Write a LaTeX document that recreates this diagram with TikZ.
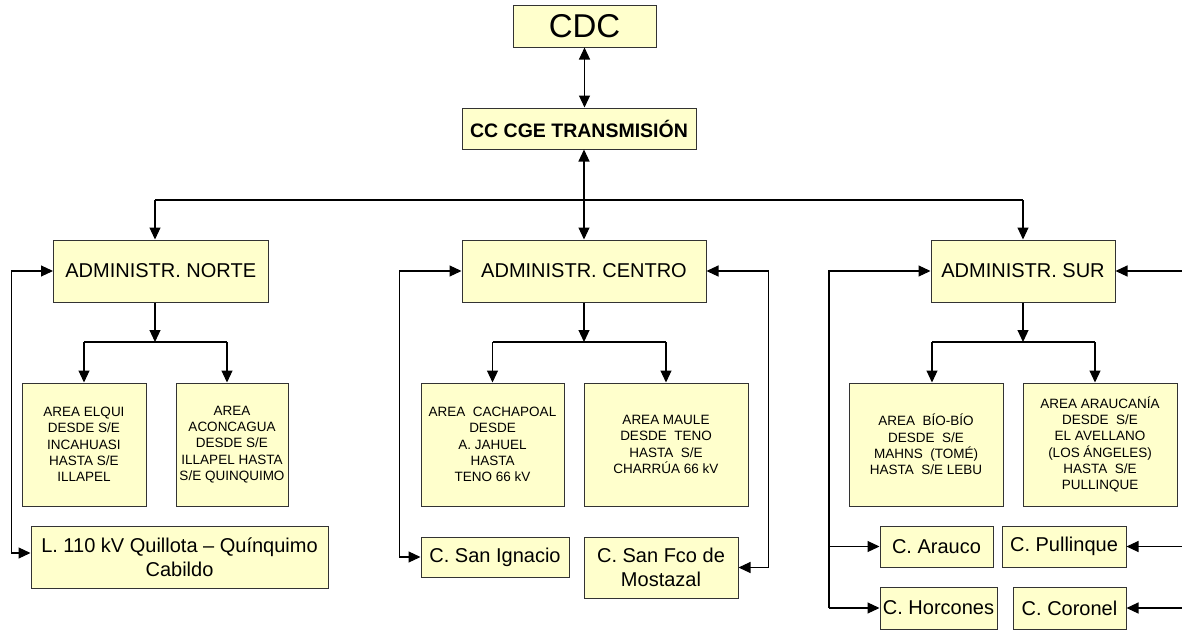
\documentclass[tikz,border=0pt]{standalone}
\usepackage{fontspec}
\setmainfont{Liberation Sans}
\usetikzlibrary{arrows.meta}
\definecolor{boxfill}{HTML}{FFFFCC}
\begin{document}
\begin{tikzpicture}[x=1pt,y=-1pt,
 box/.style={draw=black!80, line width=1pt, fill=boxfill, inner sep=0pt, align=center, font=\fontsize{20}{24.3}\selectfont},
 small/.style={font=\fontsize{13.5}{16.3}\selectfont},
 conn/.style={line width=1.1pt, -{Triangle[length=12pt,width=11pt]}},
 conn2/.style={line width=1.1pt, {Triangle[length=12pt,width=11pt]}-{Triangle[length=12pt,width=11pt]}},
 plain/.style={line width=1.1pt}
]
\useasboundingbox (0,0) rectangle (1182,629);

% top
\node[box, minimum width=143, minimum height=42, font=\fontsize{33}{36}\selectfont] (cdc) at (584.5,26) {CDC};
\node[box, minimum width=234, minimum height=41, font=\bfseries\fontsize{19.5}{22}\selectfont] (cc) at (579,128.5) {CC CGE TRANSMISIÓN};

% administrations
\node[box, minimum width=214.5, minimum height=62] (norte) at (160.75,271) {ADMINISTR. NORTE};
\node[box, minimum width=244, minimum height=62] (centro) at (584,271) {ADMINISTR. CENTRO};
\node[box, minimum width=184, minimum height=62] (sur) at (1023,271) {ADMINISTR. SUR};

% areas
\node[box, small, minimum width=124, minimum height=123] (elqui) at (84,444.5) {AREA ELQUI\\DESDE S/E\\INCAHUASI\\HASTA S/E\\ILLAPEL};
\node[box, small, minimum width=112, minimum height=123] (acon) at (232,444.5) {AREA\\ACONCAGUA\\DESDE S/E\\ILLAPEL HASTA\\S/E QUINQUIMO};
\node[box, small, minimum width=143, minimum height=123] (cacha) at (492.5,444.5) {AREA~ CACHAPOAL\\DESDE\\A. JAHUEL\\HASTA\\TENO 66 kV};
\node[box, small, minimum width=164, minimum height=123] (maule) at (666,444.5) {AREA MAULE\\DESDE~ TENO\\HASTA~ S/E\\CHARRÚA 66 kV};
\node[box, small, minimum width=154, minimum height=123] (bio) at (926,444.5) {AREA~ BÍO-BÍO\\DESDE~ S/E\\MAHNS~ (TOMÉ)\\HASTA~ S/E LEBU};
\node[box, small, minimum width=154, minimum height=123] (arauc) at (1100,444.5) {AREA ARAUCANÍA\\DESDE~ S/E\\EL AVELLANO\\(LOS ÁNGELES)\\HASTA~ S/E\\PULLINQUE};

% centrals / lines
\node[box, minimum width=297, minimum height=62] (l110) at (179.5,557) {L. 110 kV Quillota – Quínquimo\\Cabildo};
\node[box, minimum width=148, minimum height=40] (sanig) at (495,557) {C. San Ignacio};
\node[box, minimum width=154, minimum height=61] (sanfco) at (661,567.5) {C. San Fco de\\Mostazal};
\node[box, minimum width=113, minimum height=41] (arauco) at (936.5,546.5) {C. Arauco};
\node[box, minimum width=124, minimum height=41] (pull) at (1064,546.5) {C. Pullinque};
\node[box, minimum width=117, minimum height=42] (horc) at (938.5,608) {C. Horcones};
\node[box, minimum width=113, minimum height=42] (coro) at (1069.5,608) {C. Coronel};

% top connectors
\draw[conn2] (cdc.south) -- (cdc.south |- cc.north);
\draw[conn2] (centro.north |- cc.south) -- (centro.north);
\coordinate (bus) at (584,200);
\draw[plain] ([xshift=-5.75pt]norte.north |- bus) -- (sur.north |- bus);
\draw[conn] ([xshift=-5.75pt]norte.north |- bus) -- ([xshift=-5.75pt]norte.north);
\draw[conn] (sur.north |- bus) -- (sur.north);

% branches
\coordinate (br) at (0,342);
\draw[conn] ([xshift=-5.75pt]norte.south) -- ([xshift=-5.75pt]norte.south |- br);
\draw[plain] (elqui.north |- br) -- ([xshift=-5pt]acon.north |- br);
\draw[conn] (elqui.north |- br) -- (elqui.north);
\draw[conn] ([xshift=-5pt]acon.north |- br) -- ([xshift=-5pt]acon.north);

\draw[conn] (centro.south) -- (centro.south |- br);
\draw[plain] (cacha.north |- br) -- (maule.north |- br);
\draw[conn] (cacha.north |- br) -- (cacha.north);
\draw[conn] (maule.north |- br) -- (maule.north);

\draw[conn] (sur.south) -- (sur.south |- br);
\draw[plain] ([xshift=6pt]bio.north |- br) -- ([xshift=-5pt]arauc.north |- br);
\draw[conn] ([xshift=6pt]bio.north |- br) -- ([xshift=6pt]bio.north);
\draw[conn] ([xshift=-5pt]arauc.north |- br) -- ([xshift=-5pt]arauc.north);

% loops
\draw[conn2] ([yshift=4pt]l110.west) -- ++(-19,0) |- (norte.west);
\draw[conn2] (sanig.west) -- ++(-21,0) |- (centro.west);
\draw[conn2] (sanfco.east) -- ++(30,0) |- (centro.east);

\coordinate (sl) at (829,0);
\draw[conn] (horc.west -| sl) |- (sur.west);
\draw[conn] (horc.west -| sl) -- (horc.west);
\draw[conn] (arauco.west -| sl) -- (arauco.west);

\coordinate (sr) at (1182,0);
\draw[conn] (sur.east -| sr) -- (sur.east);
\draw[conn] (pull.east -| sr) -- (pull.east);
\draw[conn] (coro.east -| sr) -- (coro.east);
\end{tikzpicture}
\end{document}
